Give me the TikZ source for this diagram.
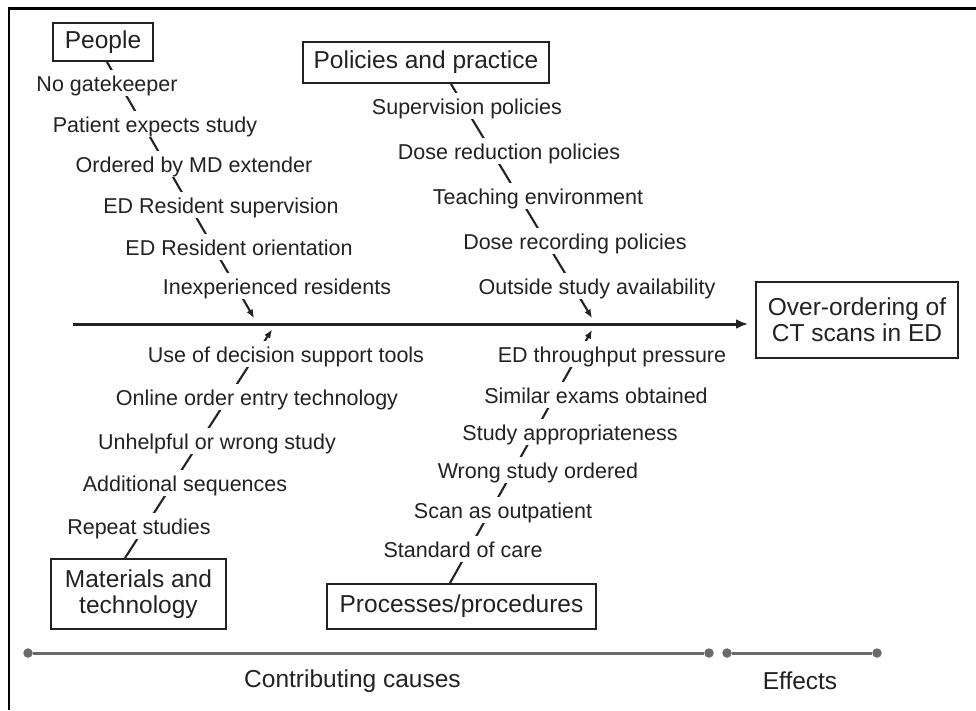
\documentclass[tikz,border=0pt]{standalone}
\usepackage{fontspec}
\setmainfont{Liberation Sans}
\usetikzlibrary{arrows.meta}
\definecolor{ink}{HTML}{222222}
\definecolor{tl}{HTML}{6A6A6A}
\begin{document}
\begin{tikzpicture}[x=1pt,y=-1pt,
  lab/.style={font=\fontsize{21.5}{24}\selectfont, text=ink, fill=white, inner xsep=1.5pt, inner ysep=0pt, text height=21pt, text depth=5pt, anchor=base},
  catbox/.style={draw=ink, line width=2pt, font=\fontsize{24.5}{26}\selectfont, text=ink, inner sep=0pt, align=center},
  bone/.style={draw=ink, line width=2.1pt, -{Latex[length=8.5pt,width=7pt]}},
  spine/.style={draw=ink, line width=3pt, -{Latex[length=12pt,width=10pt]}},
  tline/.style={draw=tl, line width=3pt},
  tdot/.style={circle, fill=tl, inner sep=0pt, minimum size=9.5pt},
  axislabel/.style={font=\fontsize{24.5}{26}\selectfont, text=ink, inner sep=0pt}
]
\useasboundingbox (0,0) rectangle (976,710);
% frame
\draw[line width=2.8pt, black] (9,710) -- (9,8.7) -- (976,8.7);

% category boxes
\node[catbox, minimum width=100pt, minimum height=38pt] (people) at (103,42) {People};
\node[catbox, minimum width=246pt, minimum height=41pt] (policies) at (426,62.5) {Policies and practice};
\node[catbox, minimum width=175pt, minimum height=70pt] (materials) at (138.5,594) {Materials and\\technology};
\node[catbox, minimum width=269pt, minimum height=45pt] (processes) at (461.5,606.5) {Processes/procedures};
\node[catbox, minimum width=202pt, minimum height=76pt] (effect) at (857,320) {Over-ordering of\\CT scans in ED};

% spine
\coordinate (spstart) at (73,324);
\draw[spine, shorten >=7pt] (spstart) -- (spstart -| effect.west);

% bone end points on the spine
\coordinate (e1) at (254,318);
\coordinate (e2) at (592,318);
\coordinate (e3) at (272,329.5);
\coordinate (e4) at (592,330);

\draw[bone] ([xshift=4pt]people.south) -- (e1);
\draw[bone] ([xshift=25pt]policies.south) -- (e2);
\draw[bone] ([xshift=-13.5pt]materials.north) -- (e3);
\draw[bone] ([xshift=-11.5pt]processes.north) -- (e4);

% People labels
\node[lab] (p1) at (107,91) {No gatekeeper};
\node[lab] (p2) at (155,132) {Patient expects study};
\node[lab] (p3) at (194,172) {Ordered by MD extender};
\node[lab] (p4) at (221,213) {ED Resident supervision};
\node[lab] (p5) at (239,255) {ED Resident orientation};
\node[lab] (p6) at (277,294) {Inexperienced residents};

% Policies labels
\node[lab] (q1) at (467,114) {Supervision policies};
\node[lab] (q2) at (509,159) {Dose reduction policies};
\node[lab] (q3) at (538,204) {Teaching environment};
\node[lab] (q4) at (575,249) {Dose recording policies};
\node[lab] (q5) at (597,294) {Outside study availability};

% Materials labels
\node[lab] (m1) at (286,362) {Use of decision support tools};
\node[lab] (m2) at (257,405) {Online order entry technology};
\node[lab] (m3) at (217,449) {Unhelpful or wrong study};
\node[lab] (m4) at (185,491) {Additional sequences};
\node[lab] (m5) at (139,534) {Repeat studies};

% Processes labels
\node[lab] (r1) at (612,362) {ED throughput pressure};
\node[lab] (r2) at (596,403) {Similar exams obtained};
\node[lab] (r3) at (570,440) {Study appropriateness};
\node[lab] (r4) at (538,478) {Wrong study ordered};
\node[lab] (r5) at (503,518) {Scan as outpatient};
\node[lab] (r6) at (463,557) {Standard of care};

% timeline
\node[tdot] (c1) at (28,653) {};
\node[tdot] (c2) at (709,653) {};
\node[tdot] (f1) at (727,653) {};
\node[tdot] (f2) at (877,653) {};
\draw[tline] (c1) -- (c2);
\draw[tline] (f1) -- (f2);
\node[axislabel] (causes) at (352.5,681) {Contributing causes};
\node[axislabel] (effects) at (800,681) {Effects};
\end{tikzpicture}
\end{document}
